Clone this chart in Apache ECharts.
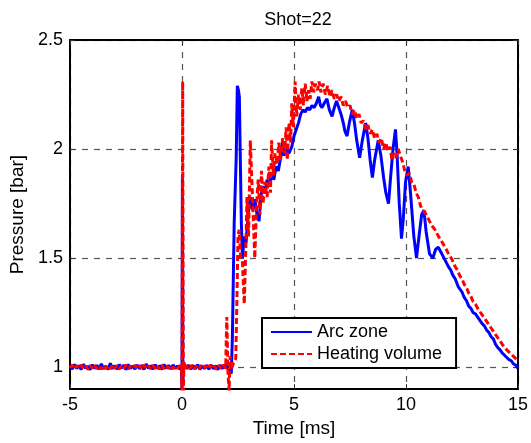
<!DOCTYPE html>
<html>
<head>
<meta charset="utf-8">
<script src="https://cdn.jsdelivr.net/npm/echarts@6/dist/echarts.min.js"></script>
<style>html,body{margin:0;padding:0;background:#fff}#c{width:531px;height:443px}</style>
</head>
<body>
<div id="c"></div>
<script>
var titleText = 'Shot=22';
var xTicks = [-5, 0, 5, 10, 15];
var yTicks = [1, 1.5, 2, 2.5];
var seriesNames = ['Arc zone', 'Heating volume'];

// Arc zone (blue) [time ms, pressure bar]
var arcBaseline = [
[-5.0,1.005],[-4.9,0.992],[-4.8,1.013],[-4.7,0.994],[-4.6,1.008],[-4.5,0.990],[-4.4,1.014],[-4.3,0.996],[-4.2,1.004],[-4.1,0.989],
[-4.0,1.012],[-3.9,0.995],[-3.8,1.009],[-3.7,0.991],[-3.6,1.016],[-3.5,0.993],[-3.4,1.006],[-3.3,0.990],[-3.2,1.018],[-3.1,0.994],
[-3.0,1.007],[-2.9,0.991],[-2.8,1.012],[-2.7,0.996],[-2.6,1.010],[-2.5,0.989],[-2.4,1.013],[-2.3,0.995],[-2.2,1.006],[-2.1,0.992],
[-2.0,1.011],[-1.9,0.993],[-1.8,1.009],[-1.7,0.990],[-1.6,1.015],[-1.5,0.995],[-1.4,1.007],[-1.3,0.991],[-1.2,1.012],[-1.1,0.994],
[-1.0,1.008],[-0.9,0.990],[-0.8,1.013],[-0.7,0.996],[-0.6,1.009],[-0.5,0.992],[-0.4,1.011],[-0.3,0.994],[-0.2,1.006],[-0.1,0.991],
[-0.03,1.004],[0.0,0.90],[0.02,1.88],[0.04,0.93],[0.07,1.02],
[0.1,1.012],[0.2,0.994],[0.3,1.010],[0.4,0.991],[0.5,1.008],[0.6,0.993],[0.7,1.012],[0.8,0.990],[0.9,1.006],[1.0,0.994],
[1.1,1.009],[1.2,0.991],[1.3,1.011],[1.4,0.993],[1.5,1.007],[1.6,0.990],[1.7,1.010],[1.8,0.994],[1.9,1.012],[2.0,0.995],[2.1,1.02]
];
var arcRise = [
[2.2,0.97],[2.25,1.14],[2.33,1.66],[2.42,1.96],[2.47,2.29],[2.52,2.27],[2.56,2.24],[2.6,1.98],[2.65,1.66],[2.7,1.50],
[2.78,1.60],[2.86,1.57],[2.95,1.70],[3.05,1.78],[3.15,1.72],[3.25,1.77],[3.35,1.70],[3.44,1.67],[3.52,1.78],[3.6,1.83],
[3.7,1.80],[3.8,1.86],[3.9,1.84],[4.0,1.88],[4.1,1.86],[4.2,1.92],[4.3,1.90],[4.4,1.96],[4.48,2.03],[4.55,1.97],
[4.65,2.00],[4.77,1.98],[4.9,2.01],[5.0,2.06],[5.1,2.09],[5.2,2.12],[5.3,2.16],[5.4,2.18],[5.5,2.17],[5.6,2.19],
[5.7,2.18],[5.8,2.20],[5.9,2.19],[6.0,2.21],[6.1,2.24],[6.18,2.20],[6.25,2.19],[6.35,2.21],[6.47,2.23],[6.58,2.18]
];
var arcOscillation = [
[6.7,2.15],[6.8,2.19],[6.9,2.22],[7.0,2.19],[7.1,2.16],[7.2,2.12],[7.28,2.08],[7.37,2.06],[7.47,2.12],[7.6,2.18],
[7.7,2.12],[7.8,2.04],[7.93,1.96],[8.05,2.04],[8.2,2.12],[8.3,2.05],[8.4,1.95],[8.5,1.87],[8.6,1.95],[8.76,2.04],
[8.88,1.97],[9.0,1.87],[9.1,1.80],[9.22,1.75],[9.32,1.88],[9.42,2.00],[9.53,2.09],[9.6,1.98],[9.7,1.75],[9.8,1.59],
[9.88,1.68],[9.98,1.85],[10.1,1.92],[10.2,1.80],[10.35,1.60],[10.47,1.50],[10.58,1.60],[10.7,1.70],[10.8,1.72],[10.9,1.62],
[11.05,1.52],[11.2,1.50],[11.32,1.54],[11.44,1.55]
];
var arcDecay = [
[11.6,1.52],[11.75,1.49],[11.9,1.46],[12.0,1.445],[12.1,1.42],[12.2,1.405],[12.33,1.37],[12.5,1.345],[12.6,1.32],[12.7,1.305],
[12.8,1.28],[12.9,1.27],[13.0,1.25],[13.1,1.245],[13.2,1.23],[13.3,1.215],[13.4,1.20],[13.5,1.19],[13.6,1.17],[13.7,1.16],
[13.8,1.14],[13.9,1.13],[14.0,1.105],[14.1,1.09],[14.2,1.08],[14.3,1.065],[14.4,1.055],[14.5,1.045],[14.6,1.035],[14.7,1.03],
[14.8,1.015],[14.9,1.01],[15.0,0.995]
];

// Heating volume (red dashed) [time ms, pressure bar]
var heatBaseline = [
[-5.0,0.998],[-4.9,1.010],[-4.8,0.992],[-4.7,1.008],[-4.6,0.995],[-4.5,1.011],[-4.4,0.993],[-4.3,1.007],[-4.2,0.990],[-4.1,1.009],
[-4.0,0.996],[-3.9,1.012],[-3.8,0.993],[-3.7,1.006],[-3.6,0.991],[-3.5,1.010],[-3.4,0.994],[-3.3,1.008],[-3.2,0.992],[-3.1,1.011],
[-3.0,0.995],[-2.9,1.009],[-2.8,0.991],[-2.7,1.007],[-2.6,0.994],[-2.5,1.012],[-2.4,0.992],[-2.3,1.006],[-2.2,0.995],[-2.1,1.010],
[-2.0,0.993],[-1.9,1.008],[-1.8,0.990],[-1.7,1.011],[-1.6,0.994],[-1.5,1.007],[-1.4,0.992],[-1.3,1.010],[-1.2,0.995],[-1.1,1.009],
[-1.0,0.991],[-0.9,1.012],[-0.8,0.993],[-0.7,1.007],[-0.6,0.994],[-0.5,1.010],[-0.4,0.992],[-0.3,1.008],[-0.2,0.995],[-0.1,1.009],
[-0.02,0.99],[0.0,0.89],[0.03,2.31],[0.06,0.89],[0.09,1.02],
[0.15,0.994],[0.25,1.009],[0.35,0.992],[0.45,1.010],[0.55,0.993],[0.65,1.007],[0.75,0.991],[0.85,1.009],[0.95,0.994],[1.05,1.008],
[1.15,0.992],[1.25,1.010],[1.35,0.993],[1.45,1.006],[1.55,0.990],[1.65,1.009],[1.75,0.994],[1.85,1.011],[1.95,0.995],
[2.0,1.23],[2.05,0.98],[2.1,0.89],[2.15,1.05],[2.2,0.99],[2.3,1.02],[2.4,1.04]
];
var heatRise = [
[2.45,1.30],[2.5,1.60],[2.55,1.63],[2.62,1.50],[2.7,1.48],[2.78,1.29],[2.85,1.55],[2.9,1.78],[2.97,1.60],[3.05,2.04],
[3.1,1.90],[3.18,1.69],[3.25,1.50],[3.32,1.72],[3.4,1.86],[3.48,1.70],[3.55,1.90],[3.62,1.75],[3.7,1.85],[3.8,1.78],
[3.88,1.92],[3.95,1.80],[4.0,2.04],[4.08,1.88],[4.15,1.98],[4.25,1.93],[4.32,2.03],[4.4,1.95],[4.5,2.05],[4.58,1.98],
[4.65,2.10],[4.7,1.95],[4.78,2.12],[4.85,2.03],[4.9,2.21],[4.97,2.10],[5.05,2.31],[5.12,2.15],[5.2,2.25],[5.28,2.18],
[5.35,2.28],[5.42,2.20],[5.5,2.30],[5.58,2.22],[5.65,2.27],[5.72,2.23],[5.8,2.31],[5.88,2.26],[5.95,2.30],[6.05,2.27],
[6.12,2.31],[6.2,2.26],[6.3,2.30],[6.4,2.25],[6.5,2.29],[6.6,2.24],[6.7,2.27],[6.8,2.23],[6.9,2.25],[7.0,2.22]
];
var heatDecay = [
[7.1,2.24],[7.2,2.20],[7.3,2.22],[7.4,2.19],[7.5,2.20],[7.6,2.16],[7.7,2.18],[7.8,2.14],[7.9,2.16],[8.0,2.12],
[8.1,2.13],[8.2,2.09],[8.3,2.11],[8.4,2.07],[8.5,2.09],[8.6,2.05],[8.7,2.07],[8.8,2.03],[8.9,2.05],[9.0,2.00],
[9.1,2.03],[9.2,1.99],[9.3,2.01],[9.37,1.95],[9.45,1.98],[9.55,1.96],[9.65,2.00],[9.75,1.97],[9.85,1.94],[9.95,1.90],
[10.05,1.88],[10.15,1.89],[10.25,1.85],[10.35,1.84],[10.45,1.80],[10.55,1.78],[10.65,1.74],[10.75,1.72],[10.85,1.71],[10.95,1.69],
[11.05,1.67],[11.15,1.65],[11.3,1.63],[11.45,1.60],[11.6,1.575],[11.75,1.55],[11.9,1.52],[12.05,1.495],[12.2,1.46],[12.3,1.445],
[12.4,1.42],[12.5,1.405],[12.6,1.38],[12.7,1.365],[12.8,1.34],[12.9,1.325],[13.0,1.30],[13.1,1.29],[13.2,1.27],[13.3,1.255],
[13.4,1.24],[13.5,1.225],[13.6,1.21],[13.7,1.195],[13.8,1.18],[13.9,1.165],[14.0,1.15],[14.1,1.135],[14.2,1.12],[14.3,1.105],
[14.4,1.09],[14.5,1.08],[14.6,1.07],[14.7,1.06],[14.8,1.05],[14.9,1.04],[15.0,1.03]
];

var arcData = arcBaseline.concat(arcRise, arcOscillation, arcDecay);
var heatData = heatBaseline.concat(heatRise, heatDecay);

var font = '"Liberation Sans", Arial, Helvetica, sans-serif';
var gridLine = { show: true, lineStyle: { color: '#555', width: 1.2, type: [6, 6] } };

var chart = echarts.init(document.getElementById('c'), null, { renderer: 'canvas' });
chart.setOption({
  animation: false,
  backgroundColor: '#fff',
  title: {
    text: titleText, left: 293, top: 6, textAlign: 'center',
    textStyle: { fontFamily: font, fontSize: 18, fontWeight: 'normal', color: '#000' }
  },
  legend: {
    data: seriesNames,
    orient: 'vertical',
    left: 262, top: 318,
    padding: [5, 14, 5, 8],
    itemGap: 4,
    itemWidth: 41, itemHeight: 14,
    itemStyle: { opacity: 0, borderWidth: 0 },
    lineStyle: { width: 2 },
    borderColor: '#000', borderWidth: 2, backgroundColor: '#fff',
    textStyle: { fontFamily: font, fontSize: 18, color: '#000' }
  },
  grid: { left: 70, right: 11, top: 40, bottom: 53, containLabel: false },
  xAxis: [{
    type: 'value', min: -5, max: 15, interval: 5,
    name: 'Time [ms]', nameLocation: 'middle', nameGap: 24,
    nameTextStyle: { fontFamily: font, fontSize: 19, color: '#000' },
    axisLine: { onZero: false, lineStyle: { color: '#000', width: 2 } },
    axisTick: { inside: true, length: 5, lineStyle: { color: '#333', width: 1 } },
    axisLabel: { fontFamily: font, fontSize: 18, color: '#000', margin: 7 },
    splitLine: gridLine
  }, {
    type: 'value', min: -5, max: 15, interval: 5, position: 'top',
    axisLine: { onZero: false, lineStyle: { color: '#000', width: 2 } },
    axisTick: { inside: true, length: 5, lineStyle: { color: '#333', width: 1 } },
    axisLabel: { show: false }, splitLine: { show: false }
  }],
  yAxis: [{
    type: 'value', min: 0.9, max: 2.5,
    name: 'Pressure [bar]', nameLocation: 'middle', nameGap: 34,
    nameTextStyle: { fontFamily: font, fontSize: 19, color: '#000' },
    axisLine: { show: true, onZero: false, lineStyle: { color: '#000', width: 2 } },
    axisTick: { show: true, inside: true, length: 5, customValues: yTicks, lineStyle: { color: '#333', width: 1 } },
    axisLabel: { fontFamily: font, fontSize: 18, color: '#000', margin: 7, customValues: yTicks },
    splitLine: gridLine
  }, {
    type: 'value', min: 0.9, max: 2.5, position: 'right',
    axisLine: { show: true, onZero: false, lineStyle: { color: '#000', width: 2 } },
    axisTick: { show: true, inside: true, length: 5, customValues: yTicks, lineStyle: { color: '#333', width: 1 } },
    axisLabel: { show: false, customValues: yTicks }, splitLine: { show: false }
  }],
  series: [{
    name: seriesNames[0], type: 'line', data: arcData,
    xAxisIndex: 0, yAxisIndex: 0,
    showSymbol: false, symbol: 'none', sampling: null,
    itemStyle: { color: '#0000ff' },
    lineStyle: { color: '#0000ff', width: 3 }, z: 3
  }, {
    name: seriesNames[1], type: 'line', data: heatData,
    xAxisIndex: 0, yAxisIndex: 0,
    showSymbol: false, symbol: 'none', sampling: null,
    itemStyle: { color: '#ff0000' },
    lineStyle: { color: '#ff0000', width: 3, type: [6, 3] }, z: 4
  }]
});
</script>
</body>
</html>
